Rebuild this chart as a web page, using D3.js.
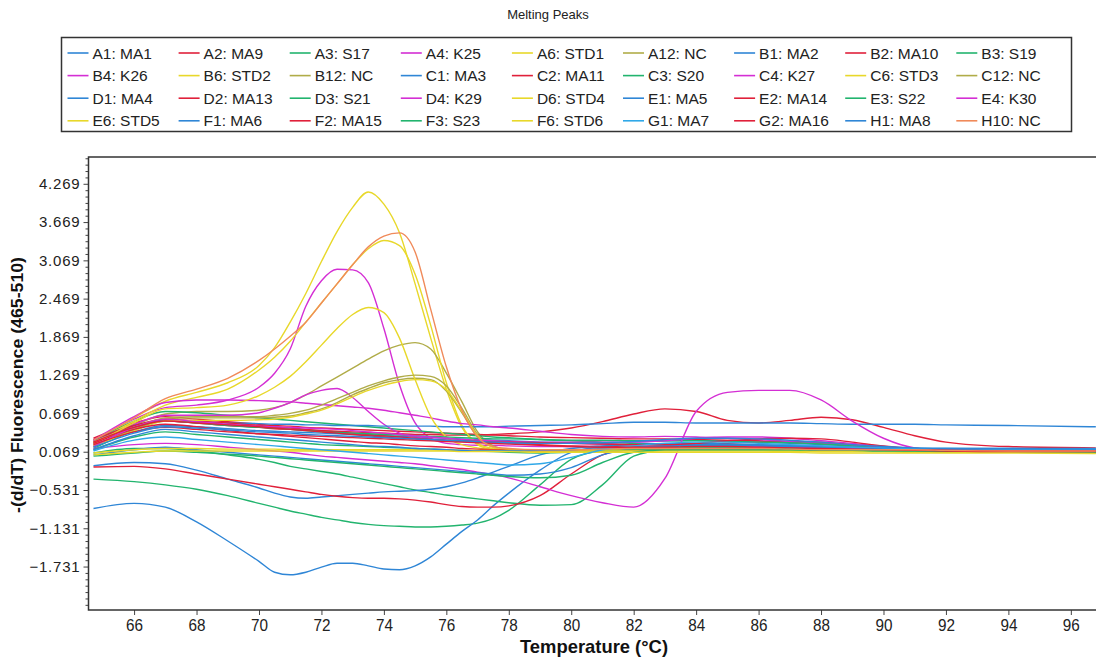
<!DOCTYPE html>
<meta charset="utf-8">
<style>
body { margin: 0; background: #fff; }
svg { display: block; font-family: "Liberation Sans", Arial, sans-serif; }
.legend text { font-size: 15.5px; fill: #222; }
.yaxis text { font-size: 15px; fill: #222; letter-spacing: 0.8px; }
.xaxis text { font-size: 17px; fill: #222; }
.curve { fill: none; stroke-width: 1.4; }
</style>
<svg width="1096" height="662"></svg>
<script src="https://d3js.org/d3.v7.min.js"></script>
<script>

var temps = [64.7, 66, 67, 68, 69, 70, 70.5, 71, 71.5, 72, 72.5, 73, 73.5, 74, 74.5,
  75, 75.5, 76, 76.5, 77, 77.5, 78, 79, 80, 81, 82, 83, 84, 85, 86, 87, 88, 89, 90, 91, 92, 94, 96.8];

var seriesNames = [
  "A1: MA1", "A2: MA9", "A3: S17", "A4: K25", "A6: STD1", "A12: NC", "B1: MA2", "B2: MA10", "B3: S19",
  "B4: K26", "B6: STD2", "B12: NC", "C1: MA3", "C2: MA11", "C3: S20", "C4: K27", "C6: STD3", "C12: NC",
  "D1: MA4", "D2: MA13", "D3: S21", "D4: K29", "D6: STD4", "E1: MA5", "E2: MA14", "E3: S22", "E4: K30",
  "E6: STD5", "F1: MA6", "F2: MA15", "F3: S23", "F6: STD6", "G1: MA7", "G2: MA16", "H1: MA8", "H10: NC"
];

var seriesColors = [
  "#2f86d6", "#e0203a", "#22b46e", "#d42ed4", "#e8d82a", "#b0ac48", "#2f86d6", "#e0203a", "#22b46e",
  "#d42ed4", "#e8d82a", "#b0ac48", "#2f86d6", "#e0203a", "#22b46e", "#d42ed4", "#e8d82a", "#b0ac48",
  "#2f86d6", "#e0203a", "#22b46e", "#d42ed4", "#e8d82a", "#2f86d6", "#e0203a", "#22b46e", "#d42ed4",
  "#e8d82a", "#2f86d6", "#e0203a", "#22b46e", "#e8d82a", "#30a8e8", "#e0203a", "#2f86d6", "#f08a5a"
];

// -(d/dT) values, one row per series, aligned with temps
var seriesValues = [
  [0.18,0.38,0.48,0.46,0.43, 0.40,0.39,0.38,0.37,0.36, 0.35,0.34,0.33,0.32,0.31, 0.30,0.29,0.28,0.27,0.26, 0.25,0.24,0.22,0.21,0.20, 0.22,0.24,0.25,0.24,0.22, 0.20,0.18,0.16,0.14,0.12, 0.11,0.10,0.10],
  [0.28,0.52,0.62,0.58,0.54, 0.50,0.48,0.47,0.45,0.44, 0.43,0.42,0.41,0.40,0.39, 0.38,0.37,0.36,0.35,0.34, 0.33,0.32,0.30,0.29,0.28, 0.27,0.27,0.26,0.25,0.24, 0.22,0.20,0.17,0.14,0.12, 0.11,0.10,0.10],
  [-0.36,-0.40,-0.45,-0.52,-0.62, -0.74,-0.80,-0.86,-0.91,-0.96, -1.00,-1.04,-1.07,-1.09,-1.10, -1.11,-1.11,-1.10,-1.08,-1.05, -0.98,-0.85,-0.45,-0.05,0.08, 0.10,0.10,0.10,0.10,0.10, 0.10,0.09,0.09,0.08,0.08, 0.07,0.07,0.06],
  [0.24,0.58,0.76,0.80,0.88, 1.08,1.30,1.68,2.35,2.75, 2.93,2.92,2.72,2.00,1.12, 0.52,0.28,0.20,0.18,0.17, 0.17,0.16,0.15,0.15,0.15, 0.15,0.15,0.15,0.14,0.14, 0.13,0.12,0.11,0.10,0.09, 0.09,0.08,0.08],
  [0.20,0.60,0.86,1.00,1.15, 1.42,1.70,2.10,2.55,3.05, 3.52,3.90,4.14,3.95,3.50, 2.70,1.85,1.05,0.45,0.18, 0.10,0.08,0.07,0.08,0.09, 0.10,0.10,0.10,0.10,0.10, 0.10,0.09,0.09,0.08,0.08, 0.07,0.07,0.06],
  [0.20,0.48,0.66,0.70,0.70, 0.72,0.76,0.84,0.96,1.10, 1.24,1.38,1.52,1.65,1.74, 1.78,1.68,1.30,0.85,0.38, 0.16,0.10,0.08,0.08,0.09, 0.10,0.10,0.10,0.10,0.10, 0.10,0.09,0.09,0.08,0.08, 0.07,0.07,0.06],
  [-0.82,-0.74,-0.80,-1.03,-1.33, -1.65,-1.82,-1.86,-1.82,-1.74, -1.68,-1.68,-1.72,-1.77,-1.78, -1.72,-1.58,-1.38,-1.18,-1.00, -0.78,-0.58,-0.22,0.06,0.14, 0.15,0.15,0.15,0.14,0.14, 0.13,0.12,0.11,0.10,0.10, 0.09,0.09,0.08],
  [0.22,0.45,0.55,0.52,0.48, 0.45,0.43,0.42,0.41,0.40, 0.39,0.38,0.37,0.36,0.35, 0.34,0.34,0.33,0.33,0.33, 0.34,0.35,0.38,0.44,0.54, 0.66,0.74,0.70,0.56,0.52, 0.56,0.61,0.57,0.45,0.32, 0.22,0.15,0.13],
  [0.22,0.55,0.70,0.68,0.64, 0.60,0.58,0.56,0.54,0.52, 0.50,0.48,0.46,0.44,0.42, 0.40,0.38,0.36,0.34,0.32, 0.30,0.29,0.26,0.24,0.22, 0.20,0.19,0.18,0.17,0.16, 0.15,0.14,0.13,0.12,0.11, 0.10,0.09,0.09],
  [0.20,0.50,0.64,0.64,0.64, 0.68,0.75,0.84,0.96,1.03, 1.06,0.92,0.70,0.50,0.36, 0.30,0.27,0.25,0.24,0.23, 0.23,0.22,0.21,0.20,0.19, 0.18,0.18,0.17,0.16,0.15, 0.14,0.13,0.12,0.11,0.10, 0.10,0.09,0.09],
  [0.22,0.55,0.80,0.92,1.05, 1.35,1.55,1.80,2.10,2.40, 2.70,3.00,3.25,3.38,3.30, 2.85,2.05,1.15,0.48,0.20, 0.12,0.10,0.09,0.09,0.10, 0.10,0.10,0.10,0.10,0.10, 0.10,0.09,0.09,0.08,0.08, 0.07,0.07,0.06],
  [0.15,0.42,0.58,0.60,0.60, 0.60,0.61,0.63,0.68,0.74, 0.84,0.96,1.06,1.15,1.20, 1.22,1.20,1.02,0.68,0.30, 0.14,0.10,0.08,0.08,0.09, 0.10,0.10,0.10,0.10,0.10, 0.10,0.09,0.09,0.08,0.08, 0.07,0.07,0.06],
  [0.25,0.48,0.56,0.54,0.52, 0.51,0.50,0.50,0.49,0.49, 0.48,0.48,0.48,0.47,0.47, 0.47,0.47,0.46,0.46,0.46, 0.46,0.47,0.48,0.49,0.51, 0.53,0.53,0.52,0.52,0.52, 0.52,0.51,0.50,0.50,0.50, 0.49,0.48,0.46],
  [0.26,0.48,0.58,0.55,0.52, 0.48,0.46,0.44,0.42,0.40, 0.38,0.36,0.34,0.32,0.30, 0.28,0.26,0.24,0.23,0.22, 0.21,0.20,0.18,0.16,0.15, 0.15,0.16,0.18,0.20,0.22, 0.23,0.22,0.18,0.14,0.10, 0.08,0.07,0.07],
  [0.05,0.12,0.12,0.08,0.02, -0.05,-0.10,-0.16,-0.20,-0.24, -0.28,-0.33,-0.38,-0.43,-0.48, -0.53,-0.57,-0.61,-0.64,-0.67, -0.70,-0.73,-0.77,-0.76,-0.45, 0.00,0.10,0.12,0.12,0.12, 0.11,0.10,0.10,0.09,0.08, 0.08,0.07,0.07],
  [0.25,0.62,0.84,0.88,0.88, 0.87,0.86,0.85,0.83,0.81, 0.79,0.77,0.75,0.72,0.68, 0.64,0.60,0.55,0.51,0.49, 0.46,0.44,0.39,0.34,0.31, 0.30,0.31,0.30,0.28,0.26, 0.23,0.20,0.17,0.13,0.10, 0.10,0.10,0.10],
  [0.18,0.52,0.74,0.76,0.80, 0.95,1.08,1.25,1.48,1.74, 2.00,2.22,2.33,2.25,1.85, 1.20,0.62,0.30,0.18,0.13, 0.10,0.09,0.08,0.08,0.09, 0.10,0.10,0.10,0.10,0.10, 0.10,0.09,0.09,0.08,0.08, 0.07,0.07,0.06],
  [0.16,0.44,0.60,0.62,0.62, 0.62,0.64,0.67,0.72,0.80, 0.90,1.00,1.10,1.18,1.24, 1.27,1.25,1.10,0.75,0.34, 0.15,0.10,0.08,0.08,0.09, 0.10,0.10,0.10,0.10,0.10, 0.10,0.09,0.09,0.08,0.08, 0.07,0.07,0.06],
  [-0.15,-0.10,-0.12,-0.22,-0.36, -0.50,-0.58,-0.64,-0.66,-0.64, -0.62,-0.60,-0.58,-0.56,-0.55, -0.54,-0.52,-0.48,-0.42,-0.34, -0.25,-0.16,0.02,0.12,0.16, 0.18,0.20,0.20,0.19,0.18, 0.17,0.16,0.14,0.12,0.10, 0.10,0.09,0.09],
  [-0.17,-0.16,-0.20,-0.28,-0.36, -0.44,-0.48,-0.52,-0.56,-0.60, -0.63,-0.65,-0.66,-0.66,-0.67, -0.69,-0.72,-0.76,-0.79,-0.80, -0.80,-0.78,-0.62,-0.28,0.02, 0.12,0.14,0.14,0.14,0.13, 0.12,0.11,0.10,0.09,0.08, 0.08,0.07,0.07],
  [0.12,0.40,0.55,0.52,0.48, 0.45,0.44,0.42,0.40,0.38, 0.37,0.36,0.35,0.34,0.33, 0.32,0.31,0.30,0.29,0.28, 0.27,0.27,0.26,0.25,0.25, 0.24,0.24,0.24,0.23,0.22, 0.21,0.19,0.16,0.13,0.11, 0.10,0.09,0.08],
  [0.12,0.18,0.20,0.18,0.14, 0.10,0.08,0.06,0.03,0.00, -0.02,-0.04,-0.06,-0.08,-0.10, -0.12,-0.15,-0.18,-0.21,-0.25, -0.29,-0.34,-0.48,-0.62,-0.73, -0.80,-0.35,0.70,1.00,1.03, 1.03,0.88,0.55,0.28,0.13, 0.10,0.09,0.08],
  [0.15,0.40,0.55,0.56,0.56, 0.57,0.58,0.61,0.66,0.72, 0.82,0.93,1.03,1.11,1.17, 1.20,1.18,1.04,0.70,0.32, 0.14,0.10,0.08,0.08,0.09, 0.10,0.10,0.10,0.10,0.10, 0.10,0.09,0.09,0.08,0.08, 0.07,0.07,0.06],
  [0.02,0.10,0.14,0.10,0.06, 0.02,0.00,-0.02,-0.04,-0.06, -0.08,-0.10,-0.12,-0.14,-0.16, -0.18,-0.20,-0.22,-0.24,-0.26, -0.28,-0.30,-0.28,-0.18,0.02, 0.12,0.16,0.17,0.17,0.16, 0.15,0.14,0.13,0.12,0.11, 0.10,0.10,0.10],
  [0.20,0.42,0.50,0.46,0.40, 0.35,0.33,0.31,0.29,0.27, 0.25,0.23,0.21,0.20,0.18, 0.16,0.15,0.14,0.12,0.11, 0.10,0.09,0.08,0.08,0.08, 0.09,0.10,0.11,0.12,0.12, 0.12,0.11,0.10,0.09,0.08, 0.07,0.06,0.06],
  [0.10,0.30,0.38,0.34,0.30, 0.26,0.24,0.22,0.20,0.18, 0.17,0.16,0.15,0.14,0.13, 0.12,0.11,0.10,0.09,0.08, 0.07,0.06,0.05,0.06,0.08, 0.10,0.12,0.14,0.14,0.13, 0.12,0.11,0.10,0.09,0.08, 0.07,0.06,0.05],
  [0.15,0.45,0.58,0.54,0.50, 0.47,0.46,0.45,0.44,0.43, 0.42,0.40,0.38,0.36,0.34, 0.32,0.30,0.28,0.26,0.25, 0.24,0.23,0.22,0.22,0.22, 0.22,0.24,0.28,0.30,0.30, 0.28,0.24,0.20,0.15,0.11, 0.09,0.08,0.08],
  [0.05,0.10,0.12,0.12,0.11, 0.11,0.11,0.10,0.10,0.10, 0.10,0.10,0.10,0.10,0.10, 0.10,0.10,0.09,0.09,0.09, 0.09,0.08,0.08,0.08,0.08, 0.08,0.08,0.08,0.08,0.08, 0.07,0.07,0.07,0.07,0.06, 0.06,0.06,0.05],
  [0.10,0.32,0.42,0.38,0.34, 0.30,0.28,0.26,0.24,0.22, 0.20,0.18,0.16,0.15,0.14, 0.12,0.11,0.10,0.09,0.08, 0.08,0.08,0.09,0.10,0.12, 0.14,0.16,0.18,0.18,0.17, 0.16,0.15,0.14,0.13,0.12, 0.12,0.12,0.12],
  [0.22,0.45,0.55,0.52,0.49, 0.46,0.44,0.42,0.40,0.38, 0.36,0.34,0.32,0.30,0.28, 0.27,0.26,0.25,0.24,0.23, 0.22,0.22,0.21,0.20,0.19, 0.18,0.18,0.20,0.24,0.27, 0.28,0.27,0.22,0.16,0.12, 0.10,0.09,0.08],
  [0.00,0.05,0.08,0.06,0.03, 0.00,-0.02,-0.04,-0.06,-0.08, -0.10,-0.12,-0.14,-0.16,-0.18, -0.20,-0.22,-0.24,-0.26,-0.28, -0.30,-0.32,-0.34,-0.30,-0.10, 0.06,0.10,0.10,0.10,0.10, 0.10,0.09,0.09,0.08,0.08, 0.07,0.07,0.06],
  [0.02,0.06,0.08,0.08,0.08, 0.08,0.08,0.08,0.08,0.08, 0.08,0.08,0.08,0.08,0.08, 0.08,0.08,0.08,0.07,0.07, 0.07,0.07,0.06,0.06,0.06, 0.06,0.06,0.06,0.06,0.06, 0.06,0.05,0.05,0.05,0.05, 0.05,0.05,0.04],
  [0.08,0.25,0.30,0.26,0.22, 0.18,0.16,0.14,0.12,0.10, 0.08,0.06,0.04,0.02,0.00, -0.02,-0.04,-0.06,-0.08,-0.10, -0.12,-0.14,-0.12,-0.02,0.10, 0.16,0.20,0.22,0.22,0.20, 0.18,0.16,0.14,0.13,0.12, 0.12,0.11,0.11],
  [0.18,0.38,0.45,0.42,0.38, 0.35,0.34,0.33,0.32,0.31, 0.30,0.29,0.28,0.27,0.26, 0.25,0.24,0.23,0.22,0.21, 0.20,0.19,0.17,0.15,0.14, 0.14,0.14,0.15,0.15,0.14, 0.13,0.12,0.11,0.10,0.09, 0.08,0.07,0.07],
  [0.14,0.36,0.46,0.44,0.41, 0.38,0.37,0.36,0.34,0.33, 0.32,0.31,0.30,0.29,0.28, 0.27,0.26,0.25,0.24,0.23, 0.22,0.21,0.20,0.20,0.21, 0.23,0.26,0.28,0.28,0.27, 0.25,0.22,0.18,0.15,0.13, 0.12,0.12,0.11],
  [0.25,0.60,0.90,1.05,1.22, 1.50,1.68,1.88,2.10,2.40, 2.70,3.00,3.28,3.45,3.50, 3.20,2.30,1.40,0.72,0.30, 0.15,0.12,0.10,0.10,0.11, 0.12,0.12,0.12,0.12,0.12, 0.11,0.10,0.10,0.10,0.10, 0.09,0.08,0.08]
];

var yTickValues = [4.269, 3.669, 3.069, 2.469, 1.869, 1.269, 0.669, 0.069, -0.531, -1.131, -1.731];
var xTickValues = [66, 68, 70, 72, 74, 76, 78, 80, 82, 84, 86, 88, 90, 92, 94, 96];

var svg = d3.select("svg");

var plot = { left: 88.5, top: 157, right: 1100, bottom: 610 };

var x = d3.scaleLinear()
    .domain([64.54, 96.87])
    .range([plot.left, 1098]);

var y = d3.scaleLinear()
    .domain([-2.412, 4.689])
    .range([plot.bottom, plot.top]);

// title
svg.append("text")
    .attr("x", 548)
    .attr("y", 19)
    .attr("text-anchor", "middle")
    .attr("font-size", 13)
    .attr("fill", "#222")
    .text("Melting Peaks");

// legend
var legend = svg.append("g").attr("class", "legend");

legend.append("rect")
    .attr("x", 61.5)
    .attr("y", 37.5)
    .attr("width", 1010)
    .attr("height", 94)
    .attr("fill", "none")
    .attr("stroke", "#333")
    .attr("stroke-width", 1.5);

var item = legend.selectAll("g.item")
  .data(seriesNames)
  .enter().append("g")
    .attr("class", "item")
    .attr("transform", function(d, i) {
      return "translate(" + (67.5 + (i % 9) * 111.1) + "," + (58.5 + Math.floor(i / 9) * 22.6) + ")";
    });

item.append("line")
    .attr("x1", 0).attr("x2", 21)
    .attr("y1", -5.5).attr("y2", -5.5)
    .attr("stroke", function(d, i) { return seriesColors[i]; })
    .attr("stroke-width", 1.6);

item.append("text")
    .attr("x", 25)
    .text(function(d) { return d; });

// axes
var yMinor = d3.range(0, 71).map(function(k) { return +(4.669 - k * 0.1).toFixed(3); })
    .filter(function(v) { return v >= -2.41 && yTickValues.indexOf(v) < 0; });

svg.append("g")
    .attr("transform", "translate(" + plot.left + ",0)")
    .call(d3.axisLeft(y).tickValues(yMinor).tickSize(3).tickFormat(""))
    .call(function(g) { g.select(".domain").remove(); g.selectAll("line").attr("stroke", "#444"); });

svg.append("g")
    .attr("class", "yaxis")
    .attr("transform", "translate(" + plot.left + ",0)")
    .call(d3.axisLeft(y).tickValues(yTickValues).tickSize(5).tickPadding(3)
      .tickFormat(function(d) { return d3.format(".3f")(d); }))
    .call(function(g) {
      g.select(".domain").remove();
      g.selectAll("line").attr("stroke", "#444");
      g.selectAll("text").attr("font-family", null).attr("font-size", null);
    });

svg.append("g")
    .attr("class", "xaxis")
    .attr("transform", "translate(0," + plot.bottom + ")")
    .call(d3.axisBottom(x).tickValues(xTickValues).tickSize(5).tickPadding(4).tickFormat(d3.format("d")))
    .call(function(g) {
      g.select(".domain").remove();
      g.selectAll("line").attr("stroke", "#444");
      g.selectAll("text").attr("font-family", null).attr("font-size", null)
        .attr("textLength", 17).attr("lengthAdjust", "spacingAndGlyphs");
    });

// curves
svg.append("clipPath").attr("id", "clip")
  .append("rect")
    .attr("x", plot.left).attr("y", plot.top)
    .attr("width", plot.right - plot.left).attr("height", plot.bottom - plot.top);

var line = d3.line()
    .x(function(d, i) { return x(temps[i]); })
    .y(function(d) { return y(d); })
    .curve(d3.curveMonotoneX);

svg.append("g")
    .attr("clip-path", "url(#clip)")
  .selectAll("path")
  .data(seriesValues)
  .enter().append("path")
    .attr("class", "curve")
    .attr("stroke", function(d, i) { return seriesColors[i]; })
    .attr("d", line);

// frame
svg.append("rect")
    .attr("x", plot.left).attr("y", plot.top)
    .attr("width", plot.right - plot.left).attr("height", plot.bottom - plot.top)
    .attr("fill", "none")
    .attr("stroke", "#333")
    .attr("stroke-width", 1.5);

// axis titles
svg.append("text")
    .attr("x", 594)
    .attr("y", 653)
    .attr("text-anchor", "middle")
    .attr("font-weight", "bold")
    .attr("font-size", 19)
    .attr("fill", "#111")
    .attr("textLength", 148)
    .attr("lengthAdjust", "spacingAndGlyphs")
    .text("Temperature (°C)");

svg.append("text")
    .attr("transform", "translate(23,385) rotate(-90)")
    .attr("text-anchor", "middle")
    .attr("font-weight", "bold")
    .attr("font-size", 17)
    .attr("fill", "#111")
    .attr("textLength", 256)
    .attr("lengthAdjust", "spacingAndGlyphs")
    .text("-(d/dT) Fluorescence (465-510)");

</script>
